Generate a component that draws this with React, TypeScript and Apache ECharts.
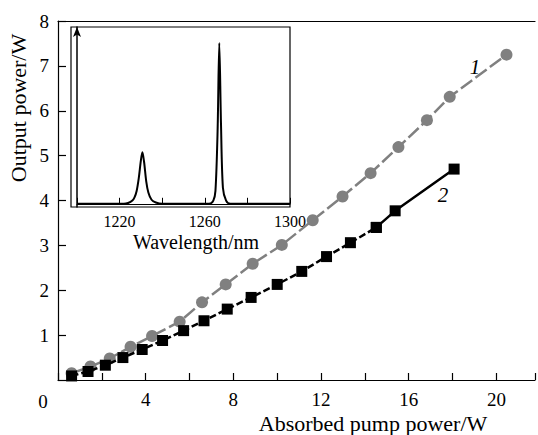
import React, { useEffect, useRef } from "react";
import * as echarts from "echarts";

// Curve 1 (grey circles): absorbed pump power (W), output power (W)
const curve1X = [0.62, 1.48, 2.36, 3.31, 4.29, 5.55, 6.57, 7.65, 8.88, 10.21, 11.62, 12.98, 14.26, 15.53, 16.83, 17.87, 20.46];
const curve1Y = [0.15, 0.3, 0.48, 0.74, 0.98, 1.3, 1.73, 2.13, 2.59, 3.01, 3.56, 4.09, 4.61, 5.19, 5.79, 6.31, 7.25];
// Curve 2 (black squares)
const curve2X = [0.62, 1.37, 2.16, 2.96, 3.84, 4.77, 5.73, 6.66, 7.72, 8.81, 10.0, 11.12, 12.25, 13.34, 14.52, 15.38, 18.07];
const curve2Y = [0.09, 0.19, 0.33, 0.5, 0.68, 0.88, 1.1, 1.32, 1.58, 1.84, 2.13, 2.42, 2.75, 3.06, 3.4, 3.77, 4.7];
const curve2DashedEnd = 14; // index where the dashed part ends and the solid part starts

// Inset spectrum: wavelength (nm), relative intensity
const specWl = [1200, 1222, 1224, 1226, 1227, 1228, 1229, 1230, 1230.7, 1231.5, 1232.5, 1233.5, 1235, 1237, 1240, 1262, 1264, 1265, 1266, 1266.8, 1267.6, 1268.5, 1270, 1272, 1300];
const specI = [0, 0, 0.005, 0.02, 0.04, 0.08, 0.16, 0.27, 0.32, 0.26, 0.14, 0.07, 0.025, 0.008, 0, 0, 0.02, 0.08, 0.45, 1.0, 0.5, 0.1, 0.02, 0, 0];

const xLabelValues = [4, 8, 12, 16, 20];
const yLabelValues = [1, 2, 3, 4, 5, 6, 7, 8];
const insetLabelValues = [1220, 1260, 1300];

const FONT = "'Liberation Serif', 'DejaVu Serif', serif";

export default function App() {
  const ref = useRef<HTMLDivElement>(null);
  useEffect(() => {
    document.body.style.margin = "0";
    if (!ref.current) return;
    const chart = echarts.init(ref.current, undefined, { renderer: "svg" });
    const s1 = curve1X.map((x, i) => [x, curve1Y[i]]);
    const s2 = curve2X.map((x, i) => [x, curve2Y[i]]);
    const spec = specWl.map((w, i) => [w, specI[i]]);
    chart.setOption({
      animation: false,
      backgroundColor: "#fff",
      grid: [
        { left: 58, top: 21, right: 0, bottom: 55 },
        { left: 77, top: 27, width: 213, height: 180 },
      ],
      xAxis: [
        {
          type: "value",
          gridIndex: 0,
          min: 0,
          max: 21.76,
          interval: 2,
          splitLine: { show: false },
          axisLine: { show: true, lineStyle: { color: "#000", width: 1.2 } },
          axisTick: { show: true, inside: true, length: 7, lineStyle: { color: "#000", width: 1.2 } },
          axisLabel: {
            margin: 10,
            fontFamily: FONT,
            fontSize: 19,
            color: "#000",
            formatter: (v: number) => (xLabelValues.includes(v) ? String(v) : ""),
          },
        },
        {
          type: "value",
          gridIndex: 0,
          position: "top",
          min: 0,
          max: 21.76,
          splitLine: { show: false },
          axisLine: { show: true, lineStyle: { color: "#000", width: 1.2 } },
          axisTick: { show: false },
          axisLabel: { show: false },
        },
        {
          type: "value",
          gridIndex: 1,
          min: 1200,
          max: 1300,
          interval: 20,
          splitLine: { show: false },
          axisLine: { show: true, lineStyle: { color: "#000", width: 1 } },
          axisTick: { show: true, inside: true, length: 6, lineStyle: { color: "#000" } },
          axisLabel: {
            margin: 6,
            fontFamily: FONT,
            fontSize: 16,
            color: "#000",
            formatter: (v: number) => (insetLabelValues.includes(v) ? String(v) : ""),
          },
        },
      ],
      yAxis: [
        {
          type: "value",
          gridIndex: 0,
          min: 0,
          max: 8,
          interval: 1,
          splitLine: { show: false },
          axisLine: { show: true, lineStyle: { color: "#000", width: 1.2 } },
          axisTick: { show: true, inside: true, length: 8, lineStyle: { color: "#000", width: 1.2 } },
          axisLabel: {
            margin: 9,
            fontFamily: FONT,
            fontSize: 19,
            color: "#000",
            formatter: (v: number) => (yLabelValues.includes(v) ? String(v) : ""),
          },
        },
        {
          type: "value",
          gridIndex: 1,
          min: -0.02,
          max: 1.1,
          splitLine: { show: false },
          axisLine: {
            show: true,
            symbol: ["none", "arrow"],
            symbolSize: [6, 10],
            lineStyle: { color: "#000", width: 1.5 },
          },
          axisTick: { show: false },
          axisLabel: { show: false },
        },
      ],
      graphic: [
        {
          type: "rect",
          shape: { x: 71, y: 27, width: 219, height: 180 },
          style: { fill: "none", stroke: "#000", lineWidth: 1.2 },
          silent: true,
        },
        {
          type: "text",
          x: 196,
          y: 242,
          style: { text: "Wavelength/nm", font: `20px ${FONT}`, fill: "#000", textAlign: "center", textVerticalAlign: "middle" },
        },
        {
          type: "text",
          x: 18,
          y: 108,
          rotation: Math.PI / 2,
          style: { text: "Output power/W", font: `22px ${FONT}`, fill: "#000", textAlign: "center", textVerticalAlign: "middle" },
        },
        {
          type: "text",
          x: 373,
          y: 423,
          style: { text: "Absorbed pump power/W", font: `22px ${FONT}`, fill: "#000", textAlign: "center", textVerticalAlign: "middle" },
        },
        {
          type: "text",
          x: 43,
          y: 401,
          style: { text: "0", font: `19px ${FONT}`, fill: "#000", textAlign: "center", textVerticalAlign: "middle" },
        },
        {
          type: "text",
          x: 475,
          y: 67,
          style: { text: "1", font: `italic 21px ${FONT}`, fill: "#000", textAlign: "center", textVerticalAlign: "middle" },
        },
        {
          type: "text",
          x: 443,
          y: 195,
          style: { text: "2", font: `italic 21px ${FONT}`, fill: "#000", textAlign: "center", textVerticalAlign: "middle" },
        },
      ],
      series: [
        {
          type: "line",
          xAxisIndex: 0,
          yAxisIndex: 0,
          data: s1,
          symbol: "circle",
          symbolSize: 12,
          itemStyle: { color: "#808080" },
          lineStyle: { color: "#808080", width: 2.5, type: [14, 4] },
          z: 3,
        },
        {
          type: "line",
          xAxisIndex: 0,
          yAxisIndex: 0,
          data: s2.slice(0, curve2DashedEnd + 1),
          symbol: "rect",
          symbolSize: 11,
          itemStyle: { color: "#000" },
          lineStyle: { color: "#000", width: 2.5, type: [7, 3] },
          z: 4,
        },
        {
          type: "line",
          xAxisIndex: 0,
          yAxisIndex: 0,
          data: s2.slice(curve2DashedEnd),
          symbol: "rect",
          symbolSize: 11,
          itemStyle: { color: "#000" },
          lineStyle: { color: "#000", width: 2.5 },
          z: 4,
        },
        {
          type: "line",
          xAxisIndex: 2,
          yAxisIndex: 1,
          data: spec,
          symbol: "none",
          smooth: 0.3,
          lineStyle: { color: "#000", width: 2 },
          z: 5,
        },
      ],
    });
    return () => chart.dispose();
  }, []);
  return <div ref={ref} style={{ width: 538, height: 435 }} />;
}
